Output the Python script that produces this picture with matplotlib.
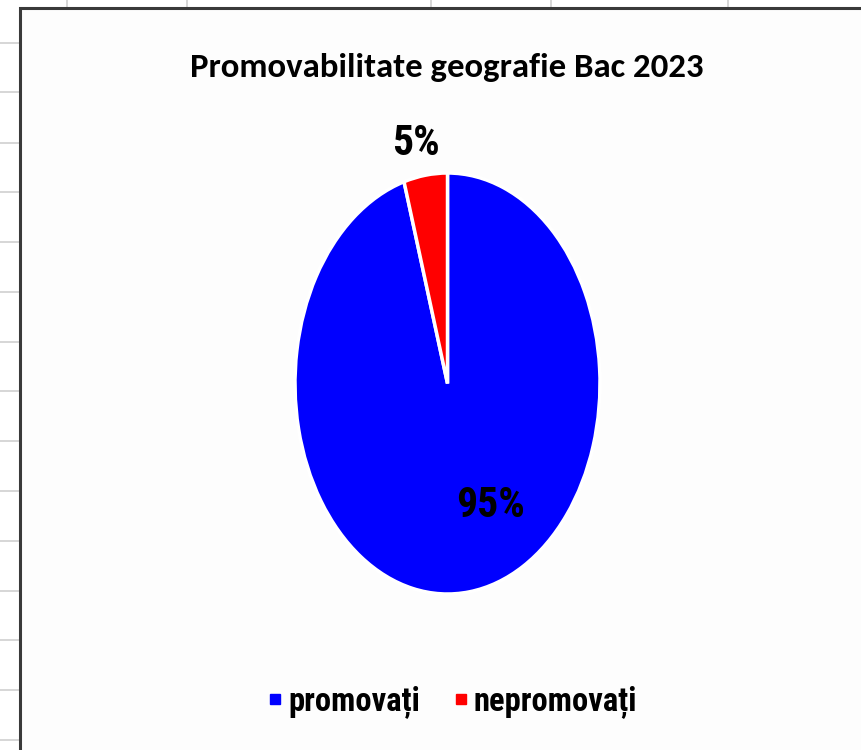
import matplotlib
matplotlib.use("Agg")

import matplotlib.pyplot as plt
from matplotlib.lines import Line2D
from matplotlib.patches import Rectangle

# data
categories = ["promovați", "nepromovați"]
values = [95.4, 4.6]
colors = ["#0000FF", "#FF0000"]
title = "Promovabilitate geografie Bac 2023"

# spreadsheet grid visible behind the chart (pixel positions)
grid_rows = [43, 92, 143, 192, 242, 292, 342, 391, 441, 491, 541, 591, 640, 690, 740]
grid_cols = [67, 187, 431, 551, 728]

W, H = 861, 750
TITLE_FONT = ["Carlito", "DejaVu Sans"]
LABEL_FONT = ["Roboto Condensed", "DejaVu Sans"]

fig = plt.figure(figsize=(W / 100, H / 100), dpi=100)
fig.patch.set_facecolor("white")

# background grid lines
for y in grid_rows:
    fig.add_artist(Line2D([0, 20 / W], [1 - y / H, 1 - y / H], color="#d0d0d0", lw=1.2, zorder=-2))
for x in grid_cols:
    fig.add_artist(Line2D([x / W, x / W], [1, 1 - 8 / H], color="#d0d0d0", lw=1.2, zorder=-2))

# chart area with its border
fig.add_artist(Rectangle((20 / W, -0.05), 1.0, 1 - 8 / H + 0.05, fill=True,
                         facecolor="#fdfdfd", edgecolor="#3a3a3a", lw=2.2, zorder=-1))

# pie (elliptical, like the stretched Excel chart)
ax = fig.add_axes([295 / W, 1 - 594 / H, 305 / W, 421 / H])
wedges, _ = ax.pie(values, colors=colors, startangle=90, counterclock=False,
                   wedgeprops=dict(edgecolor="white", linewidth=2.5))
ax.set_aspect("auto")
ax.set_xlim(-1, 1)
ax.set_ylim(-1, 1)
ax.axis("off")

# data labels
ax.text(0.28, -0.58, f"{values[0]:.0f}%", ha="center", va="center",
        fontsize=30, fontweight="bold", family=LABEL_FONT)
ax.text(-0.21, 1.14, f"{values[1]:.0f}%", ha="center", va="center",
        fontsize=30, fontweight="bold", family=LABEL_FONT, clip_on=False)

fig.text(447 / W, 1 - 68 / H, title, ha="center", va="center",
         fontsize=25, fontweight="bold", family=TITLE_FONT)

handles = [Line2D([], [], marker="s", linestyle="none", markersize=6.5,
                  markerfacecolor=c, markeredgecolor=c) for c in colors]
fig.legend(handles, categories, loc="center", bbox_to_anchor=(452 / W, 1 - 702 / H),
           ncol=2, frameon=False, handlelength=0.5, handletextpad=0.15, columnspacing=1.0,
           prop=dict(family=LABEL_FONT, size=23.5, weight="bold"))

fig.savefig("out.png", dpi=100, facecolor=fig.get_facecolor())
